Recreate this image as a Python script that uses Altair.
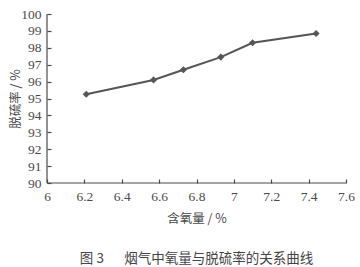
import altair as alt
import pandas as pd

oxygen = [6.21, 6.57, 6.73, 6.93, 7.10, 7.44]
desulf = [95.25, 96.1, 96.7, 97.45, 98.3, 98.85]
x_ticks = [6, 6.2, 6.4, 6.6, 6.8, 7, 7.2, 7.4, 7.6]
y_ticks = [90, 91, 92, 93, 94, 95, 96, 97, 98, 99, 100]

df = pd.DataFrame({"x": oxygen, "y": desulf})

gray = "#4a4a4a"
num_font = "Liberation Serif"
cjk_font = "Noto Sans CJK SC"

xscale = alt.Scale(domain=[6, 7.6], nice=False, zero=False)
yscale = alt.Scale(domain=[90, 100], nice=False, zero=False)

xaxis = alt.Axis(values=x_ticks, ticks=True, tickSize=4, tickColor=gray, tickWidth=1.2, offset=-4,
                 domain=False, grid=False,
                 labelFont=num_font, labelFontSize=13.5, labelColor=gray, labelPadding=6,
                 labelOverlap=False, labelFlush=False, format="~g",
                 title="含氧量 / %", titleFont=cjk_font, titleFontSize=12.5, titleFontWeight="normal",
                 titleColor=gray, titlePadding=10)
yaxis = alt.Axis(values=y_ticks, ticks=True, tickSize=4, tickColor=gray, tickWidth=1.2, offset=-4,
                 domain=False, grid=False,
                 labelFont=num_font, labelFontSize=13.5, labelColor=gray, labelPadding=6,
                 labelOverlap=False, labelFlush=False, format="d",
                 title="脱硫率 / %", titleFont=cjk_font, titleFontSize=12.5, titleFontWeight="normal",
                 titleColor=gray, titlePadding=-2)

X = alt.X("x:Q", scale=xscale, axis=xaxis)
Y = alt.Y("y:Q", scale=yscale, axis=yaxis)

line = alt.Chart(df).mark_line(color="#555555", strokeWidth=2).encode(x=X, y=Y)
pts = alt.Chart(df).mark_point(shape="diamond", filled=True, color="#555555", size=50, opacity=1).encode(x=X, y=Y)

one = pd.DataFrame({"a": [0]})
ydomain = alt.Chart(one).mark_rule(color=gray, strokeWidth=1.2).encode(
    x=alt.value(0), y=alt.value(0), y2=alt.value("height"))
xdomain = alt.Chart(one).mark_rule(color=gray, strokeWidth=1.2).encode(
    x=alt.value(0), x2=alt.value("width"), y=alt.value("height"))

chart = alt.layer(ydomain, xdomain, line, pts).properties(
    width=299, height=169,
    background="white",
    autosize=alt.AutoSizeParams(type="none"),
    padding={"left": 47, "top": 14, "right": 14, "bottom": 84},
    title=alt.TitleParams("图 3\u2003\u2002烟气中氧量与脱硫率的关系曲线", orient="bottom", anchor="middle",
                          font=cjk_font, fontSize=13.5, fontWeight="normal", color="#444444", offset=27),
).configure_view(stroke=None).configure_axis(labelFont=num_font)

chart.save("out.html", embed_options={"renderer": "svg", "actions": False})
